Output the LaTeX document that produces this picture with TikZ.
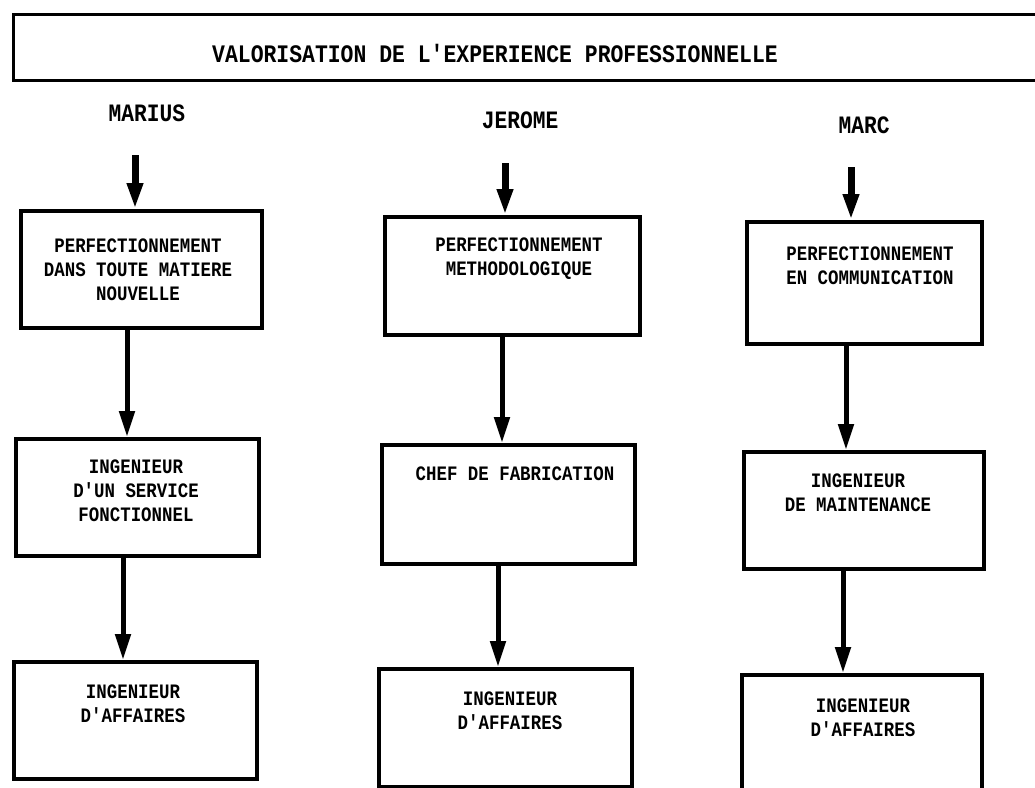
\documentclass[tikz,border=0pt]{standalone}
\usepackage{fontspec}
\newfontfamily\matrice[FakeStretch=0.85]{Liberation Mono}
\usetikzlibrary{arrows.meta,positioning}

\tikzset{
  poste/.style={draw, line width=3.5pt, inner sep=0pt, anchor=north west},
  txt/.style={font=\matrice\bfseries\fontsize{20.5}{24}\selectfont, align=center, inner sep=0pt},
  nom/.style={font=\matrice\bfseries\fontsize{25}{28}\selectfont, inner sep=0pt},
  fleche/.style={line width=5pt, -{Triangle[width=15pt,length=26pt]}},
  depart/.style={fleche, line width=7pt}
}

\begin{document}
\begin{tikzpicture}[x=1pt, y=-1pt]
  \useasboundingbox (0,0) rectangle (1035,787);
  \clip (0,0) rectangle (1035,787);

  % titre
  \node[draw, line width=3pt, minimum width=1100pt, minimum height=66pt, anchor=north west] (cadre) at (12,13) {};
  \node[nom, font=\matrice\bfseries\fontsize{25.2}{28}\selectfont] (titre) at (495,53) {VALORISATION DE L'EXPERIENCE PROFESSIONNELLE};

  % MARIUS
  \node[nom] (marius) at (147,113) {MARIUS};
  \node[poste, minimum width=241pt, minimum height=117pt] (m1) at (19,209) {};
  \node[poste, minimum width=243pt, minimum height=117pt] (m2) at (14,437) {};
  \node[poste, minimum width=243pt, minimum height=117pt] (m3) at (12,660) {};
  \node[txt] (tm1) at (138,270) {PERFECTIONNEMENT\\DANS TOUTE MATIERE\\NOUVELLE};
  \node[txt] (tm2) at (136,491) {INGENIEUR\\D'UN SERVICE\\FONCTIONNEL};
  \node[txt] (tm3) at (133,704) {INGENIEUR\\D'AFFAIRES};
  \coordinate (am) at (135,155);
  \draw[depart] (am) -- (m1.north -| am);
  \draw[fleche] (m1.south -| 127,0) -- (m2.north -| 127,0);
  \draw[fleche] (m2.south -| 123,0) -- (m3.north -| 123,0);

  % JEROME
  \node[nom] (jerome) at (520,120) {JEROME};
  \node[poste, minimum width=255pt, minimum height=118pt] (j1) at (383,215) {};
  \node[poste, minimum width=253pt, minimum height=119pt] (j2) at (380,443) {};
  \node[poste, minimum width=253pt, minimum height=118pt] (j3) at (377,667) {};
  \node[txt] (tj1) at (519,259) {PERFECTIONNEMENT\\METHODOLOGIQUE};
  \node[txt] (tj2) at (515,474) {CHEF DE FABRICATION};
  \node[txt] (tj3) at (510,711) {INGENIEUR\\D'AFFAIRES};
  \coordinate (aj) at (505,163);
  \draw[depart] (aj) -- (j1.north -| aj);
  \draw[fleche] (j1.south -| 502,0) -- (j2.north -| 502,0);
  \draw[fleche] (j2.south -| 498,0) -- (j3.north -| 498,0);

  % MARC
  \node[nom] (marc) at (864,125) {MARC};
  \node[poste, minimum width=235pt, minimum height=122pt] (c1) at (745,220) {};
  \node[poste, minimum width=240pt, minimum height=117pt] (c2) at (742,450) {};
  \node[poste, minimum width=240pt, minimum height=130pt] (c3) at (740,673) {};
  \node[txt] (tc1) at (870,266) {PERFECTIONNEMENT\\EN COMMUNICATION};
  \node[txt] (tc2) at (858,493) {INGENIEUR\\DE MAINTENANCE};
  \node[txt] (tc3) at (863,718) {INGENIEUR\\D'AFFAIRES};
  \coordinate (ac) at (851,167);
  \draw[depart] (ac) -- (c1.north -| ac);
  \draw[fleche] (c1.south -| 846,0) -- (c2.north -| 846,0);
  \draw[fleche] (c2.south -| 843,0) -- (c3.north -| 843,0);
\end{tikzpicture}
\end{document}
